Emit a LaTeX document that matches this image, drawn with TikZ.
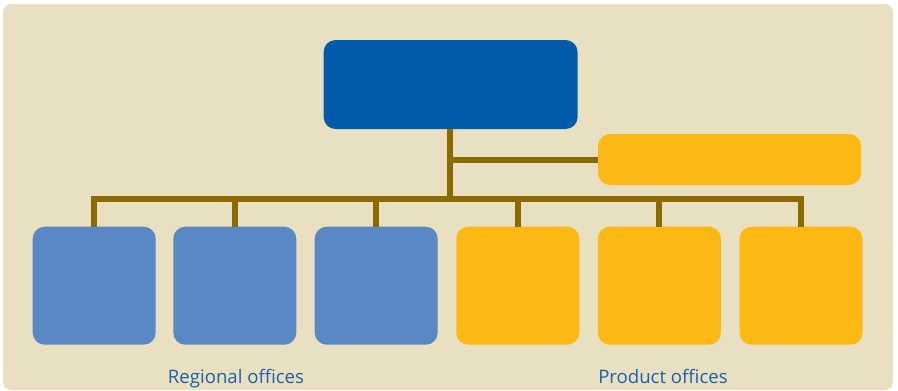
\documentclass[tikz,border=0pt]{standalone}
\usepackage{fontspec}
\setmainfont{Open Sans}
\definecolor{paper}{HTML}{E9DFC1}
\definecolor{headblue}{HTML}{005BAA}
\definecolor{regionblue}{HTML}{5A88C5}
\definecolor{productyellow}{HTML}{FDB913}
\definecolor{linkbrown}{HTML}{8B6A00}
\definecolor{labelblue}{HTML}{1A62AA}
\tikzset{
  box/.style={rectangle, rounded corners=12pt, inner sep=0pt, draw=none},
  headbox/.style={box, fill=headblue, minimum width=254pt, minimum height=89pt},
  sidebox/.style={box, fill=productyellow, minimum width=263pt, minimum height=51pt},
  regionbox/.style={box, fill=regionblue, minimum width=123pt, minimum height=118pt},
  productbox/.style={box, fill=productyellow, minimum width=123pt, minimum height=118pt},
  link/.style={draw=linkbrown, line width=6pt, line join=miter},
  grouplabel/.style={text=labelblue, font=\fontsize{18.6}{22}\selectfont, anchor=base, inner sep=0pt}
}
\begin{document}
\begin{tikzpicture}[x=1pt, y=-1pt]
  \useasboundingbox (0,0) rectangle (898,391);
  % panel
  \fill[paper, rounded corners=8pt] (3,4) rectangle (893,390);

  % boxes
  \node[headbox] (head) at (450.6,84.5) {};
  \node[sidebox] (staff) at (729.5,159.5) {};
  \node[regionbox]  (r1) at (94.2,285.7) {};
  \node[regionbox]  (r2) at (234.8,285.7) {};
  \node[regionbox]  (r3) at (376.2,285.7) {};
  \node[productbox] (p1) at (517.8,285.7) {};
  \node[productbox] (p2) at (659.4,285.7) {};
  \node[productbox] (p3) at (801.0,285.7) {};

  % connectors
  \coordinate (bus) at (450,198.5);
  \draw[link] (head.south -| bus) -- (bus);
  \draw[link] (staff.west -| bus) -- (staff.west);
  \draw[link] (r1.north) |- (bus) -| (p3.north);
  \foreach \n in {r2,r3,p1,p2}
    \draw[link] (\n.north) -- (\n.north |- bus);

  % group labels
  \node[grouplabel] (reglabel) at (236,383) {Regional offices};
  \node[grouplabel] (prodlabel) at (663,383) {Product offices};
\end{tikzpicture}
\end{document}
